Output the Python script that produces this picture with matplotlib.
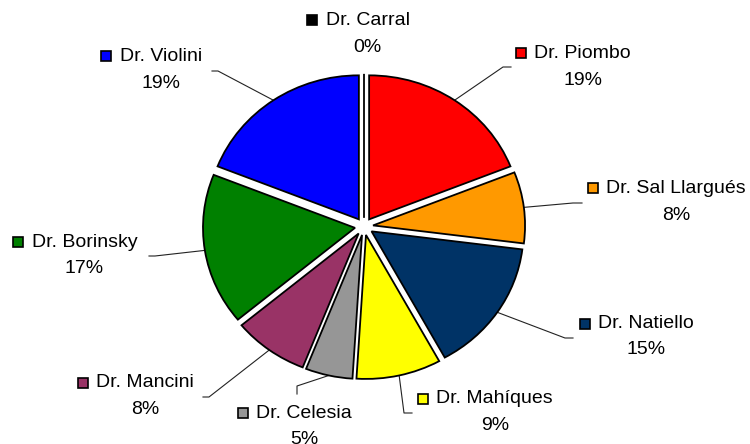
import matplotlib.pyplot as plt
import numpy as np

doctors = ['Dr. Carral', 'Dr. Piombo', 'Dr. Sal Llargués', 'Dr. Natiello',
           'Dr. Mahíques', 'Dr. Celesia', 'Dr. Mancini', 'Dr. Borinsky',
           'Dr. Violini']
percent = [0, 19, 8, 15, 9, 5, 8, 17, 19]
colors = ['#000000', '#ff0000', '#ff9900', '#003366', '#ffff00',
          '#969696', '#993366', '#008000', '#0000ff']

# layout, in pixels with y going down
W, H = 750, 444
CX, CY = 364, 226.5      # pie centre
RX, RY = 152, 144        # the pie is a little wider than tall
key_pos = [(311.5, 20.5), (520.5, 53.5), (592.5, 188.5), (584.5, 323.5),
           (422.5, 398.5), (242.5, 413), (82.5, 382.5), (17.5, 242),
           (105.5, 56.5)]
# leader line: elbow point, end point (None = no leader)
leaders = [None,
           [(503, 67), (511, 67)],
           [(573, 203), (582, 203)],
           [(565, 338), (573, 338)],
           [(404, 413), (412, 413)],
           [(297, 386), (297, 394)],
           [(209, 397), (203, 397)],
           [(155, 256), (149, 256)],
           [(218, 71), (212, 71)]]

plt.rcParams['font.family'] = ['Liberation Sans', 'DejaVu Sans']


def to_data(px, py):
    return (px - CX) / RX, (CY - py) / RY


def main():
    fig = plt.figure(figsize=(W / 100, H / 100), dpi=100)
    ax = fig.add_axes([0, 0, 1, 1])

    wedges, _ = ax.pie(percent, colors=colors, startangle=90, counterclock=False,
                       explode=[0.06] * len(percent),
                       wedgeprops=dict(edgecolor='black', linewidth=1.3))
    wedges[0].set_joinstyle('bevel')

    ax.set_aspect('auto')
    x0, y0 = to_data(0, H)
    x1, y1 = to_data(W, 0)
    ax.set_xlim(x0, x1)
    ax.set_ylim(y0, y1)
    ax.axis('off')

    for w, name, pct, c, (sx, sy), lead in zip(wedges, doctors, percent, colors,
                                               key_pos, leaders):
        # key square + name, percentage centred under the name
        kx, ky = to_data(sx, sy)
        ax.plot([kx], [ky], marker='s', ms=7.3, mfc=c, mec='black', mew=1.2,
                ls='none', clip_on=False)
        tx, ty = to_data(sx + 14, sy)
        t = ax.text(tx, ty, name, fontsize=14, ha='left', va='center')
        fig.canvas.draw()
        bb = t.get_window_extent()
        mid_px = (bb.x0 + bb.x1) / 2
        px, py = to_data(mid_px, sy + 26.5)
        ax.text(px, py, f'{pct}%', fontsize=14, ha='center', va='center')

        if lead is None:
            continue
        ang = np.deg2rad((w.theta1 + w.theta2) / 2)
        sx0 = w.center[0] + w.r * np.cos(ang)
        sy0 = w.center[1] + w.r * np.sin(ang)
        pts = [(sx0, sy0)] + [to_data(*p) for p in lead]
        xs, ys = zip(*pts)
        ax.plot(xs, ys, color='#222222', lw=0.8, zorder=0)

    fig.savefig('out.png', dpi=100)


if __name__ == '__main__':
    main()
